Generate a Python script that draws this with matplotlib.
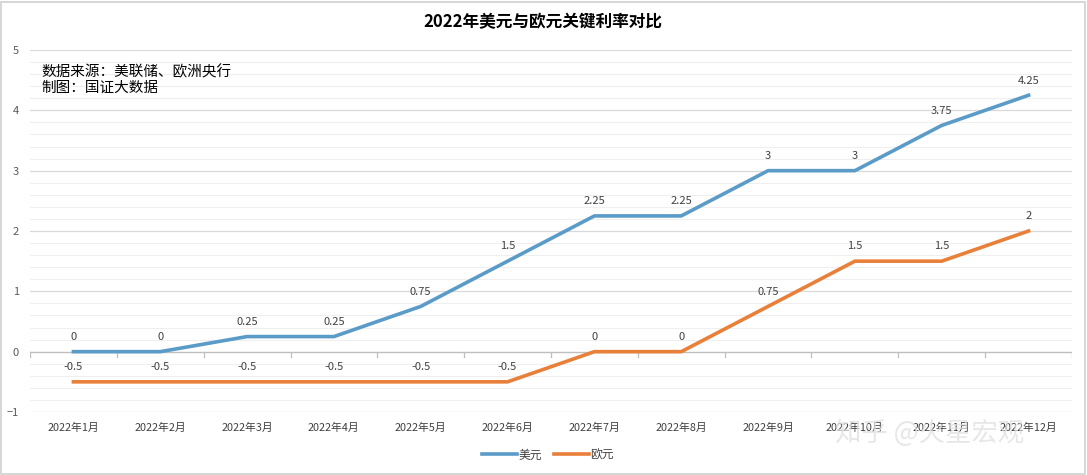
import matplotlib
matplotlib.use("Agg")
import matplotlib.pyplot as plt
from matplotlib.ticker import MultipleLocator
from matplotlib.patches import Rectangle

plt.rcParams['font.family'] = ['Noto Sans CJK SC', 'DejaVu Sans']

months = ["2022年1月", "2022年2月", "2022年3月", "2022年4月", "2022年5月", "2022年6月",
          "2022年7月", "2022年8月", "2022年9月", "2022年10月", "2022年11月", "2022年12月"]
usd = [0, 0, 0.25, 0.25, 0.75, 1.5, 2.25, 2.25, 3, 3, 3.75, 4.25]
eur = [-0.5, -0.5, -0.5, -0.5, -0.5, -0.5, 0, 0, 0.75, 1.5, 1.5, 2]
usd_labels = ["0", "0", "0.25", "0.25", "0.75", "1.5", "2.25", "2.25", "3", "3", "3.75", "4.25"]
eur_labels = ["-0.5", "-0.5", "-0.5", "-0.5", "-0.5", "-0.5", "0", "0", "0.75", "1.5", "1.5", "2"]

blue = "#5B9BC8"
orange = "#E8803A"

W, H = 1087, 475
fig = plt.figure(figsize=(W/100, H/100), dpi=100)
ax = fig.add_axes([30/W, 1-412/H, (1072-30)/W, (412-50)/H])

x = list(range(len(months)))
ax.plot(x, usd, color=blue, lw=2.6, label="美元", solid_joinstyle='round', zorder=3)
ax.plot(x, eur, color=orange, lw=2.6, label="欧元", solid_joinstyle='round', zorder=3)

for xi, v, t in zip(x, usd, usd_labels):
    ax.annotate(t, (xi, v), xytext=(0, 7), textcoords='offset points', ha='center',
                va='bottom', fontsize=8, color='#404040')
for xi, v, t in zip(x, eur, eur_labels):
    ax.annotate(t, (xi, v), xytext=(0, 7), textcoords='offset points', ha='center',
                va='bottom', fontsize=8, color='#404040')

ax.set_xlim(-0.5, len(months)-0.5)
ax.set_ylim(-1, 5)
ax.yaxis.set_major_locator(MultipleLocator(1))
ax.yaxis.set_minor_locator(MultipleLocator(0.2))
ax.grid(which='major', axis='y', color='#d9d9d9', lw=0.9)
ax.grid(which='minor', axis='y', color='#efefef', lw=0.8)
ax.set_axisbelow(True)
for s in ax.spines.values():
    s.set_visible(False)

ax.tick_params(axis='y', which='both', length=0, labelsize=8, labelcolor='#595959', pad=8)
ax.set_xticks(x)
ax.set_xticklabels(months)
ax.tick_params(axis='x', length=0, labelsize=7.8, labelcolor='#404040', pad=8)

# category axis at y=0 with tick marks between categories
ax.axhline(0, color='#bfbfbf', lw=0.9, zorder=2)
for b in range(len(months)+1):
    ax.plot([b-0.5, b-0.5], [0, -0.09], color='#bfbfbf', lw=0.9, zorder=2)

ax.text(0.011, 0.96, "数据来源：美联储、欧洲央行\n制图：国证大数据", transform=ax.transAxes,
        ha='left', va='top', fontsize=10.5, color='black', linespacing=1.2)

fig.text(543/W, 1-22/H, "2022年美元与欧元关键利率对比", ha='center', va='center',
         fontsize=12, fontweight='bold', color='black')

leg = ax.legend(loc='center', bbox_to_anchor=(548/W, 1-455/H), bbox_transform=fig.transFigure,
                ncol=2, frameon=False, fontsize=8.5, handlelength=3, handletextpad=0.1,
                columnspacing=1.0, labelcolor='#404040')

# watermark
fig.text(930/W, 1-433/H, "知乎 @火星宏观", ha='center', va='center', fontsize=19,
         color='#e0e0e0', alpha=0.75, zorder=10)

# frame
fig.patches.append(Rectangle((1/W, 1/H), 1-3/W, 1-3/H, transform=fig.transFigure,
                             fill=False, edgecolor='#d0d0d0', lw=1.2))

fig.savefig("out.png", dpi=100)
